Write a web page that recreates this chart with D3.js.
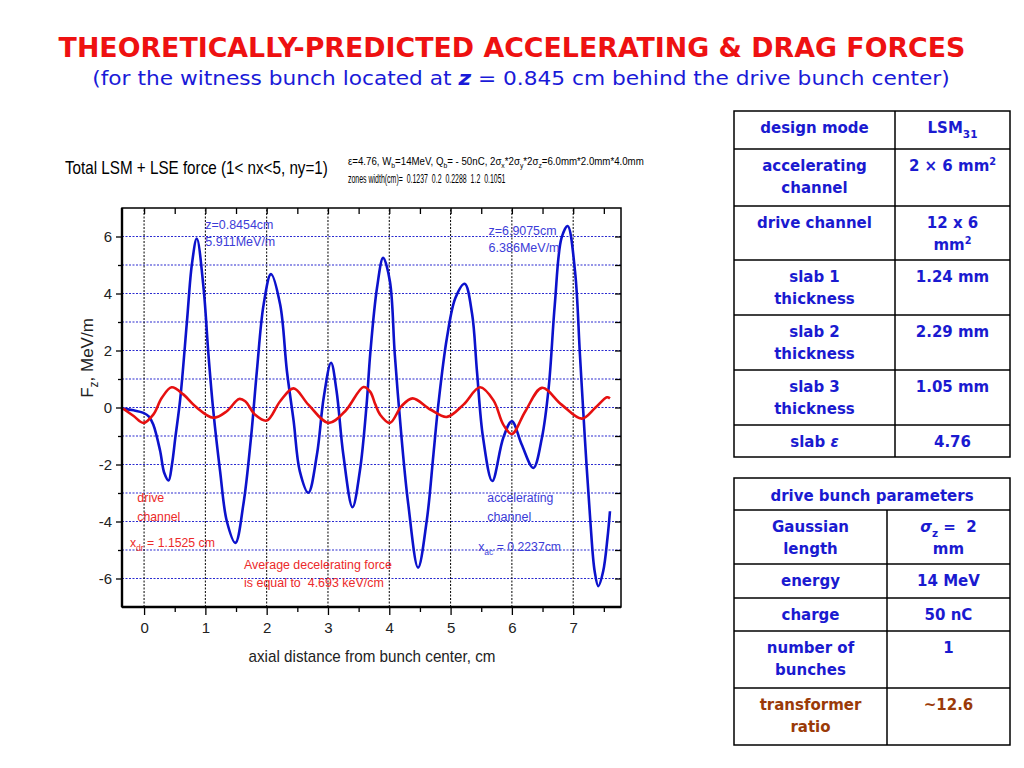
<!DOCTYPE html>
<html lang="en">
<head>
<meta charset="UTF-8">
<title>Theoretically-predicted accelerating &amp; drag forces</title>
<script src="https://d3js.org/d3.v7.min.js"></script>
<style>
  body { margin: 0; background: #fff; }
  svg { display: block; background: #fff; }
  text { white-space: pre; }
</style>
</head>
<body>
<svg width="1024" height="768"></svg>
<script>
// ---- values ----
// total LSM + LSE force on the witness (blue), z in cm, F in MeV/m
const totalForce = [
  [-0.34, -0.04], [-0.17, -0.10], [-0.01, -0.19], [0.08, -0.32], [0.15, -0.6], [0.26, -1.5],
  [0.33, -2.3], [0.40, -2.56], [0.455, -2.0], [0.51, -1.06], [0.59, 0.3], [0.70, 3.03],
  [0.78, 5.02], [0.86, 5.93], [0.97, 4.2], [1.05, 1.86], [1.13, -0.13], [1.24, -2.23],
  [1.35, -3.99], [1.49, -4.75], [1.62, -3.40], [1.745, -1.05], [1.84, 1.28], [1.95, 3.61],
  [2.07, 4.68], [2.22, 3.61], [2.33, 1.28], [2.44, -0.48], [2.54, -2.23], [2.68, -2.99],
  [2.82, -1.65], [2.93, 0.34], [3.05, 1.57], [3.14, 0.58], [3.25, -1.65], [3.40, -3.50],
  [3.52, -2.23], [3.63, 0.1], [3.69, 1.9], [3.80, 4.2], [3.90, 5.25], [4.01, 4.43],
  [4.09, 1.86], [4.20, -1.06], [4.31, -3.40], [4.47, -5.62], [4.61, -3.99], [4.72, -1.65],
  [4.80, 0.1], [4.94, 2.44], [5.08, 3.85], [5.23, 4.34], [5.35, 3.3], [5.43, 1.28],
  [5.53, -1.06], [5.68, -2.58], [5.86, -1.06], [6.00, -0.48], [6.16, -1.30], [6.35, -2.12],
  [6.49, -1.06], [6.60, 0.69], [6.70, 3.61], [6.81, 5.95], [6.91, 6.37], [7.03, 4.78],
  [7.11, 1.86], [7.19, -1.06], [7.28, -3.99], [7.35, -5.74], [7.41, -6.27], [7.49, -5.74],
  [7.56, -4.57], [7.60, -3.64]
];
// drag force on the drive bunch (red)
const dragForce = [
  [-0.34, -0.04], [-0.17, -0.30], [-0.01, -0.54], [0.15, -0.25], [0.29, 0.34], [0.45, 0.71],
  [0.64, 0.46], [0.83, 0.05], [1.13, -0.36], [1.35, -0.13], [1.55, 0.30], [1.65, 0.22],
  [1.81, -0.25], [2.00, -0.46], [2.22, 0.22], [2.44, 0.67], [2.68, 0.10], [3.01, -0.54],
  [3.28, -0.13], [3.58, 0.72], [3.69, 0.55], [3.77, 0.12], [3.85, -0.25], [4.01, -0.54],
  [4.20, 0.05], [4.38, 0.32], [4.67, -0.07], [4.94, -0.33], [5.21, 0.10], [5.48, 0.71],
  [5.70, 0.25], [5.86, -0.60], [6.00, -0.93], [6.22, -0.13], [6.49, 0.69], [6.81, 0.10],
  [7.14, -0.39], [7.36, -0.01], [7.55, 0.36], [7.60, 0.32]
];
const xTicks = [0, 1, 2, 3, 4, 5, 6, 7];
const xMinorTicks = [0.5, 1.5, 2.5, 3.5, 4.5, 5.5, 6.5, 7.5];
const yTicks = [-6, -4, -2, 0, 2, 4, 6];
const yMinorTicks = [-5, -3, -1, 1, 3, 5];
const yGrid = [-6, -5, -4, -3, -2, -1, 0, 1, 2, 3, 4, 5, 6];

const titleText = "THEORETICALLY-PREDICTED ACCELERATING & DRAG FORCES";
const subtitleText = "(for the witness bunch located at `z` = 0.845 cm behind the drive bunch center)";
const chartTitle = "Total LSM + LSE force (1< nx<5, ny=1)";
const paramLine = "ε=4.76, W_{b}=14MeV, Q_{b}= - 50nC, 2σ_{x}*2σ_{y}*2σ_{z}=6.0mm*2.0mm*4.0mm";
const zonesLine = "zones width(cm)=  0.1237  0.2  0.2288  1.2  0.1051";
const xTitle = "axial distance from bunch center, cm";
const yTitle = "F_{z}, MeV/m";

// table rows: [left cell lines, right cell lines]
const designRows = [
  [["design mode"], ["LSM_{31}"]],
  [["accelerating", "channel"], ["2 × 6 mm^{2}"]],
  [["drive channel"], ["12 x 6", "mm^{2}"]],
  [["slab 1", "thickness"], ["1.24 mm"]],
  [["slab 2", "thickness"], ["2.29 mm"]],
  [["slab 3", "thickness"], ["1.05 mm"]],
  [["slab `ε`"], ["4.76"]]
];
const bunchHeader = "drive bunch parameters";
const bunchRows = [
  [["Gaussian", "length"], ["`σ`_{z} =  2", "mm"]],
  [["energy"], ["14 MeV"]],
  [["charge"], ["50 nC"]],
  [["number of", "bunches"], ["1"]],
  [["transformer", "ratio"], ["~12.6"]]
];

// ---- helpers ----
const svg = d3.select("svg");
const SANS = "'Liberation Sans', Arial, sans-serif";
const COMIC = "'DejaVu Sans', sans-serif";

// tiny markup: _{sub} ^{sup} `italic`
function rich(t, str, size, boldItalic) {
  const parts = str.split(/(_\{[^}]*\}|\^\{[^}]*\}|`[^`]*`)/).filter(s => s);
  let shift = 0;
  parts.forEach(p => {
    let txt = p, dy = 0, fs = null, it = false;
    if (p.startsWith("_{")) { txt = p.slice(2, -1); dy = size * 0.3; fs = size * 0.7; }
    else if (p.startsWith("^{")) { txt = p.slice(2, -1); dy = -size * 0.4; fs = size * 0.65; }
    else if (p.startsWith("`")) { txt = p.slice(1, -1); it = true; }
    const ts = t.append("tspan").text(txt);
    if (dy - shift !== 0) ts.attr("dy", dy - shift);
    shift = dy;
    if (fs) ts.attr("font-size", fs);
    if (it) { ts.attr("font-style", "italic"); if (boldItalic) ts.attr("font-weight", "bold"); }
  });
  return t;
}

// squeeze a text horizontally to a measured width (the original fonts run narrow)
function squeeze(t, w) {
  const b = t.node().getBBox();
  if (!b.width) return t;
  const ax = +t.attr("x");
  t.attr("transform", `translate(${ax},0) scale(${w / b.width},1) translate(${-ax},0)`);
  return t;
}

function label(g, x, y, str, opts) {
  const t = g.append("text")
    .attr("x", x).attr("y", y)
    .attr("font-family", opts.family || SANS)
    .attr("font-size", opts.size)
    .attr("font-weight", opts.weight || "normal")
    .attr("fill", opts.color || "#000")
    .attr("text-anchor", opts.anchor || "start");
  rich(t, str, opts.size, opts.boldItalic);
  if (opts.width) squeeze(t, opts.width);
  return t;
}

// ---- page titles ----
label(svg, 512, 57, titleText, { family: COMIC, size: 26, weight: "bold", color: "#ee1111", anchor: "middle", width: 907 });
label(svg, 521, 85, subtitleText, { family: COMIC, size: 20, color: "#1a1ad8", anchor: "middle", width: 858, boldItalic: true });

// ---- chart ----
const x = d3.scaleLinear().domain([-0.36, 7.78]).range([122, 621]);
const y = d3.scaleLinear().domain([-7, 7]).range([607, 208]);

label(svg, 65, 174, chartTitle, { size: 18, width: 263 });
label(svg, 348, 165, paramLine, { size: 11.5, width: 296 });
label(svg, 348, 183, zonesLine, { size: 12, width: 158 });

const plot = svg.append("g");

// grid
plot.append("g").selectAll("line").data(yGrid).join("line")
  .attr("x1", x.range()[0]).attr("x2", x.range()[1])
  .attr("y1", d => y(d)).attr("y2", d => y(d))
  .attr("stroke", "#2a2ad0").attr("stroke-width", 1.2).attr("stroke-dasharray", "2,1.5");
plot.append("g").selectAll("line").data(xTicks).join("line")
  .attr("x1", d => x(d)).attr("x2", d => x(d))
  .attr("y1", y.range()[0]).attr("y2", y.range()[1])
  .attr("stroke", "#000").attr("stroke-width", 1).attr("stroke-dasharray", "2,1.5");

// curves
const line = d3.line().x(d => x(d[0])).y(d => y(d[1])).curve(d3.curveCatmullRom.alpha(0.5));
plot.append("path").datum(totalForce)
  .attr("d", line).attr("fill", "none").attr("stroke", "#0c12cc").attr("stroke-width", 2.6);
plot.append("path").datum(dragForce)
  .attr("d", line).attr("fill", "none").attr("stroke", "#e61010").attr("stroke-width", 2.6);

// annotations
const blueTxt = "#3c3cd8", redTxt = "#ec2a2a";
label(plot, x(1.0), y(6.26), "z=0.8454cm", { size: 13.5, color: blueTxt, width: 68 });
label(plot, x(1.0), y(5.67), "5.911MeV/m", { size: 13.5, color: blueTxt, width: 70 });
label(plot, x(5.62), y(6.05), "z=6.9075cm", { size: 13.5, color: blueTxt, width: 68 });
label(plot, x(5.62), y(5.44), "6.386MeV/m", { size: 13.5, color: blueTxt, width: 71 });
label(plot, x(-0.11), y(-3.33), "drive", { size: 13.5, color: redTxt, width: 27 });
label(plot, x(-0.11), y(-3.98), "channel", { size: 13.5, color: redTxt, width: 43 });
label(plot, x(-0.23), y(-4.9), "x_{dr} = 1.1525 cm", { size: 13.5, color: redTxt, width: 85 });
label(plot, x(1.63), y(-5.68), "Average decelerating force", { size: 13.5, color: redTxt, width: 148 });
label(plot, x(1.63), y(-6.3), "is equal to  4.693 keV/cm", { size: 13.5, color: redTxt, width: 140 });
label(plot, x(5.6), y(-3.3), "accelerating", { size: 13.5, color: blueTxt, width: 66 });
label(plot, x(5.6), y(-3.98), "channel", { size: 13.5, color: blueTxt, width: 44 });
label(plot, x(5.45), y(-5.05), "x_{ac} = 0.2237cm", { size: 13.5, color: blueTxt, width: 83 });

// axes and frame
const fmt = d => String(d);
function styleAxis(g) {
  g.select(".domain").remove();
  g.selectAll(".tick line").attr("stroke", "#000").attr("stroke-width", 1.3);
  g.selectAll(".tick text").attr("font-family", SANS).attr("font-size", 15).attr("fill", "#222");
}
svg.append("g").attr("transform", `translate(0,${y.range()[0]})`)
  .call(d3.axisBottom(x).tickValues(xTicks).tickSize(8).tickPadding(7).tickFormat(fmt)).call(styleAxis);
svg.append("g").attr("transform", `translate(0,${y.range()[0]})`)
  .call(d3.axisBottom(x).tickValues(xMinorTicks).tickSize(5).tickFormat("")).call(styleAxis);
svg.append("g").attr("transform", `translate(0,${y.range()[1]})`)
  .call(d3.axisTop(x).tickValues(xTicks.concat(xMinorTicks)).tickSize(-6).tickFormat("")).call(styleAxis);
svg.append("g").attr("transform", `translate(${x.range()[0]},0)`)
  .call(d3.axisLeft(y).tickValues(yTicks).tickSize(6).tickPadding(4).tickFormat(fmt)).call(styleAxis);
svg.append("g").attr("transform", `translate(${x.range()[0]},0)`)
  .call(d3.axisLeft(y).tickValues(yMinorTicks).tickSize(4).tickFormat("")).call(styleAxis);
svg.append("g").attr("transform", `translate(${x.range()[1]},0)`)
  .call(d3.axisRight(y).tickValues(yGrid).tickSize(-6).tickFormat("")).call(styleAxis);

svg.append("rect")
  .attr("x", x.range()[0]).attr("y", y.range()[1])
  .attr("width", x.range()[1] - x.range()[0]).attr("height", y.range()[0] - y.range()[1])
  .attr("fill", "none").attr("stroke", "#000").attr("stroke-width", 1.5);
svg.append("line").attr("x1", x.range()[0]).attr("x2", x.range()[1])
  .attr("y1", y.range()[0]).attr("y2", y.range()[0]).attr("stroke", "#000").attr("stroke-width", 2.4);
svg.append("line").attr("x1", x.range()[0]).attr("x2", x.range()[0])
  .attr("y1", y.range()[1]).attr("y2", y.range()[0]).attr("stroke", "#000").attr("stroke-width", 2.4);

label(svg, 372, 662, xTitle, { size: 16, anchor: "middle", width: 247, color: "#222" });
const yt = svg.append("text")
  .attr("transform", "translate(93,358) rotate(-90)")
  .attr("text-anchor", "middle").attr("font-family", SANS).attr("font-size", 17).attr("fill", "#222");
rich(yt, yTitle, 17);

// ---- tables ----
const blueInk = "#1a1ad0", brownInk = "#9a3a08";
function drawTable(x0, x1, xMid, top, rowHeights, rows, header) {
  const g = svg.append("g");
  const bounds = [top];
  rowHeights.forEach(h => bounds.push(bounds[bounds.length - 1] + h));
  const cellText = (cx, y0, lines, color) => {
    lines.forEach((s, i) => label(g, cx, y0 + 22 + i * 21.5, s,
      { family: COMIC, size: 15, weight: "bold", color: color, anchor: "middle" }));
  };
  let r0 = 0;
  if (header) {
    cellText((x0 + x1) / 2, bounds[0] + 1, [header], blueInk);
    r0 = 1;
  }
  rows.forEach((row, i) => {
    const color = i === rows.length - 1 && header ? brownInk : blueInk;
    cellText((x0 + xMid) / 2, bounds[i + r0], row[0], color);
    cellText((xMid + x1) / 2, bounds[i + r0], row[1], color);
  });
  // borders
  g.append("rect").attr("x", x0).attr("y", top).attr("width", x1 - x0)
    .attr("height", bounds[bounds.length - 1] - top)
    .attr("fill", "none").attr("stroke", "#000").attr("stroke-width", 1.5);
  g.selectAll("line.h").data(bounds.slice(1, -1)).join("line")
    .attr("x1", x0).attr("x2", x1).attr("y1", d => d).attr("y2", d => d)
    .attr("stroke", "#000").attr("stroke-width", 1.5);
  g.append("line").attr("x1", xMid).attr("x2", xMid)
    .attr("y1", bounds[r0]).attr("y2", bounds[bounds.length - 1])
    .attr("stroke", "#000").attr("stroke-width", 1.5);
}
drawTable(734, 1010, 895, 111, [38, 57, 54, 55, 55, 55, 32], designRows, null);
drawTable(734, 1010, 887, 478, [32, 54, 34, 33, 57, 57], bunchRows, bunchHeader);
</script>
</body>
</html>
